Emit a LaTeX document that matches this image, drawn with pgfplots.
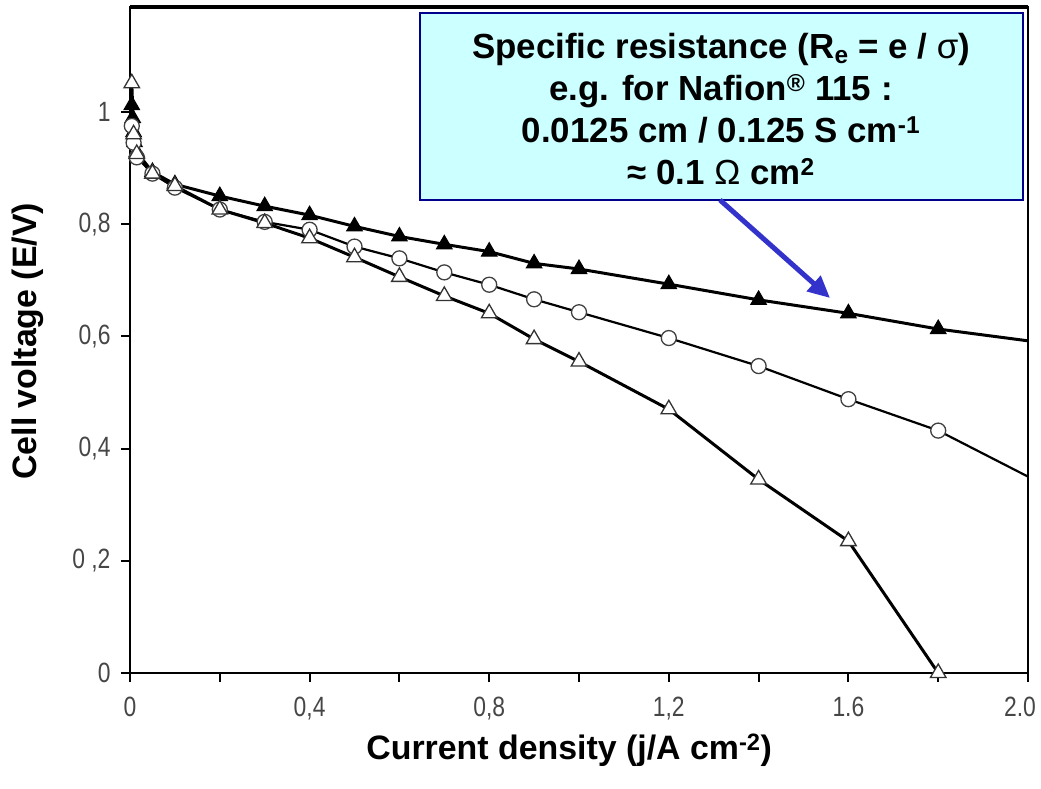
\documentclass[border=0pt]{standalone}
\usepackage{fontspec}
\setmainfont{Liberation Sans}
\newfontfamily\tickfont[FakeStretch=0.82]{Liberation Sans}
\usepackage{pgfplots}
\pgfplotsset{compat=1.18}
\usepackage{pgfplotstable}
\usetikzlibrary{arrows.meta}
\definecolor{boxfill}{RGB}{204,255,255}
\definecolor{boxedge}{RGB}{0,0,140}
\definecolor{arrowblue}{RGB}{51,51,204}
\definecolor{ticktext}{RGB}{70,70,70}

\pgfplotstableread{
x y
0.004 1.012
0.006 0.989
0.008 0.964
0.010 0.946
0.015 0.928
0.05 0.893
0.1 0.871
0.2 0.850
0.3 0.832
0.4 0.816
0.5 0.796
0.6 0.778
0.7 0.764
0.8 0.751
0.9 0.730
1.0 0.720
1.2 0.693
1.4 0.665
1.6 0.641
1.8 0.613
2.0 0.592
}\filledtri

\pgfplotstableread{
x y
0.004 0.975
0.008 0.945
0.015 0.919
0.05 0.890
0.1 0.865
0.2 0.826
0.3 0.804
0.4 0.790
0.5 0.760
0.6 0.739
0.7 0.714
0.8 0.692
0.9 0.666
1.0 0.643
1.2 0.597
1.4 0.547
1.6 0.488
1.8 0.432
2.0 0.350
}\circles

\pgfplotstableread{
x y
0.004 1.051
0.008 0.960
0.015 0.925
0.05 0.890
0.1 0.868
0.2 0.826
0.3 0.802
0.4 0.775
0.5 0.741
0.6 0.706
0.7 0.672
0.8 0.641
0.9 0.595
1.0 0.555
1.2 0.470
1.4 0.345
1.6 0.235
1.8 0.000
}\opentri

\begin{document}
\begin{tikzpicture}[x=1bp,y=1bp]
\path[use as bounding box] (0,0) rectangle (1041,789);
\begin{axis}[
  at={(130bp,116bp)}, anchor=south west,
  scale only axis, width=898bp, height=666bp,
  xmin=0, xmax=2, ymin=0, ymax=1.187,
  axis line style={line width=2.5bp},
  tick align=outside, tick pos=left,
  major tick length=9bp, minor tick length=9bp,
  every tick/.style={line width=2bp, black},
  xtick={0,0.4,0.8,1.2,1.6,2.0},
  xticklabels={0,{0,4},{0,8},{1,2},1.6,{2.0\hspace*{16bp}}},
  minor xtick={0.2,0.6,1.0,1.4,1.8},
  ytick={0,0.2,0.4,0.6,0.8,1.0},
  yticklabels={0,{0 ,2},{0,4},{0,6},{0,8},1},
  ticklabel style={font=\tickfont\fontsize{28}{32}\selectfont, text=ticktext},
  xticklabel style={yshift=-14bp, inner sep=1bp},
  yticklabel style={xshift=-7bp},
  xlabel={Current density (j/A cm\textsuperscript{-2})},
  ylabel={Cell voltage (E/V)},
  label style={font=\fontsize{34}{40}\selectfont\bfseries},
  xlabel style={at={(axis description cs:0.489,-0.116)}, anchor=center, inner sep=1bp},
  ylabel style={at={(axis description cs:-0.1136,0.498)}, anchor=center},
  clip=false,
]
\draw[line width=4bp] (rel axis cs:0,1) -- (rel axis cs:1,1);
\addplot[black, line width=3bp, mark=none] table[x=x,y=y] {\filledtri};
\addplot[black, line width=2.2bp, mark=none] table[x=x,y=y] {\circles};
\addplot[black, line width=3bp, mark=none] table[x=x,y=y] {\opentri};
\addplot[only marks, restrict x to domain=0:1.9, mark=triangle*, mark size=9bp,
  mark options={fill=black, draw=black, line width=1bp}] table[x=x,y=y] {\filledtri};
\addplot[only marks, restrict x to domain=0:1.9, mark=*, mark size=7.5bp,
  mark options={fill=white, draw=black!75, line width=1.3bp}] table[x=x,y=y] {\circles};
\addplot[only marks, mark=triangle*, mark size=9bp,
  mark options={fill=white, draw=black!80, line width=1.3bp}] table[x=x,y=y] {\opentri};
\end{axis}
\draw[boxedge, fill=boxfill, line width=1.8bp] (420,776) rectangle (1023,589);
\node[align=center, font=\fontsize{35}{42}\selectfont\bfseries] at (721,680)
  {Specific resistance (R\textsubscript{e} = e / {\mdseries σ})\\
   e.g. for Nafion\textsuperscript{®} 115 :\\
   0.0125 cm / 0.125 S cm\textsuperscript{-1}\\
   ≈ 0.1 {\mdseries Ω} cm\textsuperscript{2}};
\draw[arrowblue, line width=5bp, -{Triangle[length=22bp,width=20bp]}] (720,589) -- (830,491);
\end{tikzpicture}
\end{document}
